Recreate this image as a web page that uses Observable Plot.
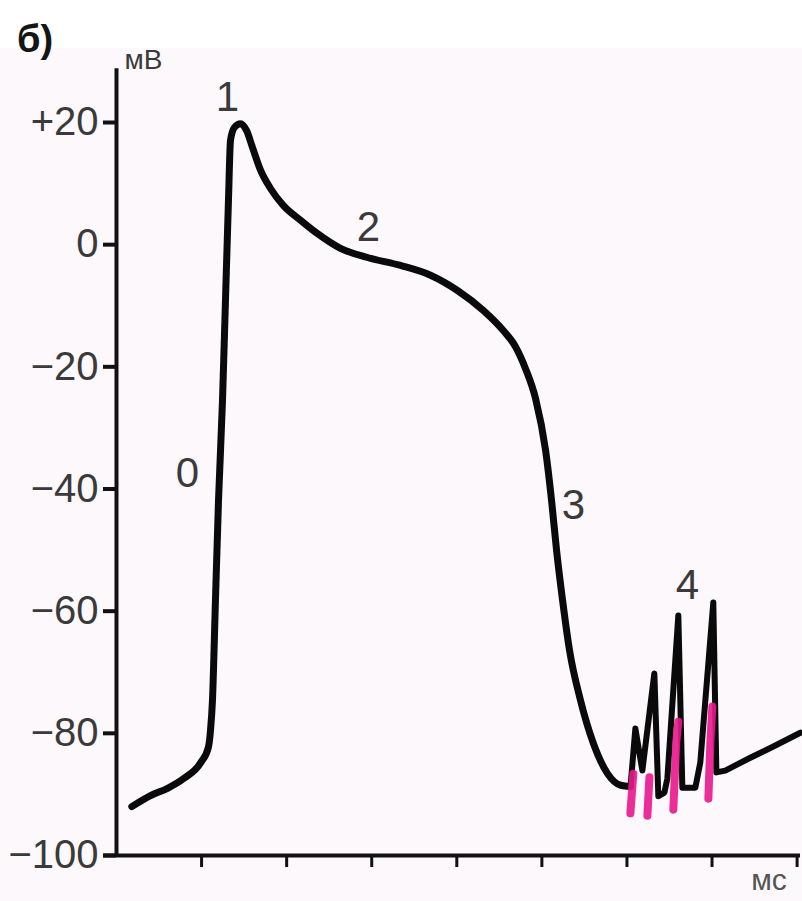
<!DOCTYPE html>
<html><head><meta charset="utf-8">
<script src="https://cdn.jsdelivr.net/npm/d3@7"></script>
<script src="https://cdn.jsdelivr.net/npm/@observablehq/plot@0.6"></script>
<style>
body{margin:0;background:#fff;width:802px;height:901px;overflow:hidden}
#head{height:48px;position:relative;background:#fff}
#head span{position:absolute;left:17px;top:20px;font:bold 38px/1 'Liberation Sans',sans-serif;color:#151515}
</style></head><body>
<div id="head"><span>б)</span></div>
<div id="chart"></div>
<script>
// Action potential trace, smooth part (time in tick units, membrane potential in mV)
const apTime = [0.18,0.40,0.60,0.79,0.99,1.08,1.105,1.128,1.163,1.199,1.246,1.281,1.316,1.340,1.387,1.458,1.528,1.599,1.693,1.810,1.963,2.163,2.363,2.633,2.951,3.338,3.691,4.008,4.314,4.549,4.690,4.808,4.926,5.044,5.114,5.173,5.244,5.325,5.454,5.607,5.772,5.925,6.042];
const apMv   = [-92.0,-90.2,-89.0,-87.4,-84.8,-82.3,-79.5,-74.6,-58.3,-41.9,-25.5,-9.1,7.2,17.1,19.2,19.8,18.7,15.9,12.2,9.2,6.4,4.0,1.8,-0.6,-2.1,-3.4,-5.0,-7.5,-10.8,-14.1,-16.7,-20.3,-25.2,-33.7,-41.9,-50.1,-58.3,-66.4,-74.6,-81.7,-86.6,-88.5,-88.7];

// Phase-4 spikes and recovery (continues the trace)
const spikeTime = [6.042,6.099,6.181,6.322,6.369,6.440,6.475,6.604,6.651,6.804,6.862,7.015,7.051,7.156,7.450,7.744,8.038];
const spikeMv   = [-88.7,-79.2,-86.1,-70.2,-90.3,-89.7,-87.4,-60.7,-88.9,-88.9,-84.8,-58.6,-86.4,-86.1,-84.0,-82.0,-79.9];

// Magenta prepotential marks under the phase-4 spikes
const pinkTime  = [6.040,6.075, 6.240,6.264, 6.545,6.580,6.604, 6.957,6.981,7.004];
const pinkMv    = [-93.1,-86.6, -93.5,-87.2, -92.5,-81.4,-78.1, -90.7,-81.3,-75.6];
const pinkSpike = [1,1, 2,2, 3,3,3, 4,4,4];

// Phase labels
const phaseText = ["0","1","2","3","4"];
const phaseTime = [0.835,1.305,2.962,5.372,6.712];
const phaseMv   = [-37.5,24.1,2.8,-42.7,-55.8];

// Axes
const yTicks = [20,0,-20,-40,-60,-80,-100];
const yTickLabels = ["+20","0","−20","−40","−60","−80","−100"];
const xTicks = [1,2,3,4,5,6,7,8];
const yUnit = "мВ";
const xUnit = "мс";

const ap = apTime.map((t,i)=>({t, v: apMv[i]}));
const spikes = spikeTime.map((t,i)=>({t, v: spikeMv[i]}));
const pink = pinkTime.map((t,i)=>({t, v: pinkMv[i], s: pinkSpike[i]}));
const phases = phaseText.map((s,i)=>({s, t: phaseTime[i], v: phaseMv[i]}));

const font = "'Liberation Sans Narrow','Liberation Sans',sans-serif";

const chart = Plot.plot({
  width: 802,
  height: 853,
  marginLeft: 116,
  marginRight: 2,
  marginTop: 74,
  marginBottom: 46,
  style: {background: "#fcf8fc", fontFamily: font, overflow: "visible"},
  x: {domain: [0, 8.04], axis: null},
  y: {domain: [-100, 20], axis: null},
  marks: [
    Plot.axisY(yTicks, {
      tickSize: 13, tickPadding: 5, strokeWidth: 4, stroke: "#111", fill: "#3a3a3a",
      fontSize: 40, tickFormat: (d) => yTickLabels[yTicks.indexOf(d)], label: null,
      style: {letterSpacing: "-2px"}
    }),
    Plot.axisX(xTicks, {
      tickSize: 12, strokeWidth: 3, stroke: "#111", tickFormat: () => "", label: null
    }),
    Plot.ruleX([0], {y1: -100, y2: 28.8, stroke: "#111", strokeWidth: 4}),
    Plot.ruleY([-100], {x1: -0.15, x2: 8.04, stroke: "#111", strokeWidth: 4}),
    Plot.line(ap, {x: "t", y: "v", curve: "monotone-x", stroke: "#0a0a0a", strokeWidth: 7, strokeLinejoin: "round", strokeLinecap: "round"}),
    Plot.line(spikes, {x: "t", y: "v", curve: "linear", stroke: "#0a0a0a", strokeWidth: 6, strokeLinejoin: "round", strokeLinecap: "round"}),
    Plot.line(pink, {x: "t", y: "v", z: "s", stroke: "#e8168c", strokeWidth: 8, strokeLinecap: "round", strokeLinejoin: "round", strokeOpacity: 0.9}),
    Plot.text(phases, {x: "t", y: "v", text: "s", fontSize: 42, fill: "#3a3a3a", textAnchor: "middle"}),
    Plot.text([yUnit], {x: 0, y: 30.3, text: d => d, dx: 8, textAnchor: "start", fontSize: 28, fill: "#3a3a3a"}),
    Plot.text([xUnit], {x: 7.67, y: -104.1, text: d => d, textAnchor: "middle", fontSize: 30, fill: "#555"})
  ]
});
document.getElementById("chart").appendChild(chart);
</script>
</body></html>
